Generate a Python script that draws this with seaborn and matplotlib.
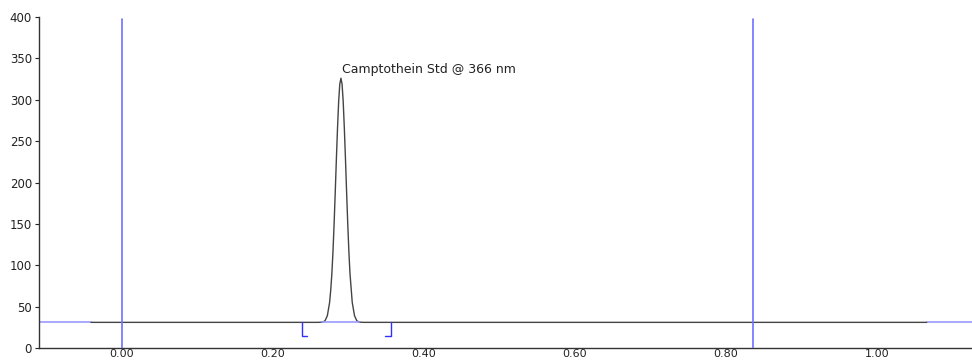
import numpy as np
import pandas as pd
import matplotlib
matplotlib.use("Agg")
import matplotlib.pyplot as plt
import seaborn as sns

# trace values (minutes, mAU)
trace_x = [-0.041, 0.200, 0.260, 0.266, 0.269, 0.272, 0.275, 0.2765, 0.278, 0.2795,
           0.281, 0.2825, 0.284, 0.2855, 0.287, 0.2885, 0.290, 0.2915, 0.293, 0.2945,
           0.296, 0.2975, 0.299, 0.3005, 0.302, 0.305, 0.308, 0.311, 0.314, 0.320,
           0.600, 1.066]
trace_y = [31, 31, 31, 31.3, 33, 39, 55, 70, 90, 117,
           151, 189, 229, 266, 298, 319, 326, 319, 298, 266,
           229, 189, 151, 117, 90, 55, 39, 33, 31.3, 31,
           31, 31]

# event markers (blue vertical lines)
event_x = [0.0, 0.836]
# baseline continuation outside the trace
ext_left = [-0.110, -0.041]
ext_right = [1.066, 1.126]
baseline_level = 31
# integration
integ_start, integ_end = 0.265, 0.314
bracket_x = [0.238, 0.356]
bracket_low = 15

peak_label = "Camptothein Std @ 366 nm"
peak_pos = (0.2915, 329)

y_ticks = [0, 50, 100, 150, 200, 250, 300, 350, 400]
x_ticks = [0.0, 0.2, 0.4, 0.6, 0.8, 1.0]

sns.set_style("ticks")
plt.rcParams["font.family"] = ["DejaVu Sans"]

fig = plt.figure(figsize=(9.72, 3.6), dpi=100)
ax = fig.add_axes([0.0401, 0.0333, 0.9599, 0.9195])

df = pd.DataFrame({"time": trace_x, "signal": trace_y})

blue = "#7070ff"
light_blue = "#9a9aff"
dark_blue = "#3030ff"

ax.plot(ext_left, [baseline_level] * 2, color=light_blue, lw=1.2, zorder=2)
ax.plot(ext_right, [baseline_level] * 2, color=light_blue, lw=1.2, zorder=2)
for ex in event_x:
    ax.plot([ex, ex], [0, 398], color=blue, lw=1.2, zorder=3)

sns.lineplot(data=df, x="time", y="signal", color="#444444", lw=1.0, ax=ax, zorder=2)

ax.plot([integ_start, integ_end], [baseline_level] * 2, color=light_blue, lw=1.2, zorder=3)
bx0, bx1 = bracket_x
ax.plot([bx0, bx0, bx0 + 0.007], [baseline_level, bracket_low, bracket_low],
        color=dark_blue, lw=1.0, zorder=3)
ax.plot([bx1, bx1, bx1 - 0.007], [baseline_level, bracket_low, bracket_low],
        color=dark_blue, lw=1.0, zorder=3)

ax.text(peak_pos[0], peak_pos[1], peak_label, ha="left", va="bottom",
        fontsize=9, color="#222222")

ax.set_xlim(-0.110, 1.126)
ax.set_ylim(0, 400)
ax.set_yticks(y_ticks)
ax.set_xticks(x_ticks)
ax.set_xticklabels([f"{v:.2f}" for v in x_ticks])
ax.set_xlabel("")
ax.set_ylabel("")
ax.tick_params(axis="y", length=3, width=0.8, labelsize=8.5, pad=2, colors="#222222")
ax.tick_params(axis="x", length=0, labelsize=8, pad=0.5, colors="#222222")
sns.despine(ax=ax)
for s in ["left", "bottom"]:
    ax.spines[s].set_color("#333333")
    ax.spines[s].set_linewidth(1.0)

fig.savefig("out.png", dpi=100)
